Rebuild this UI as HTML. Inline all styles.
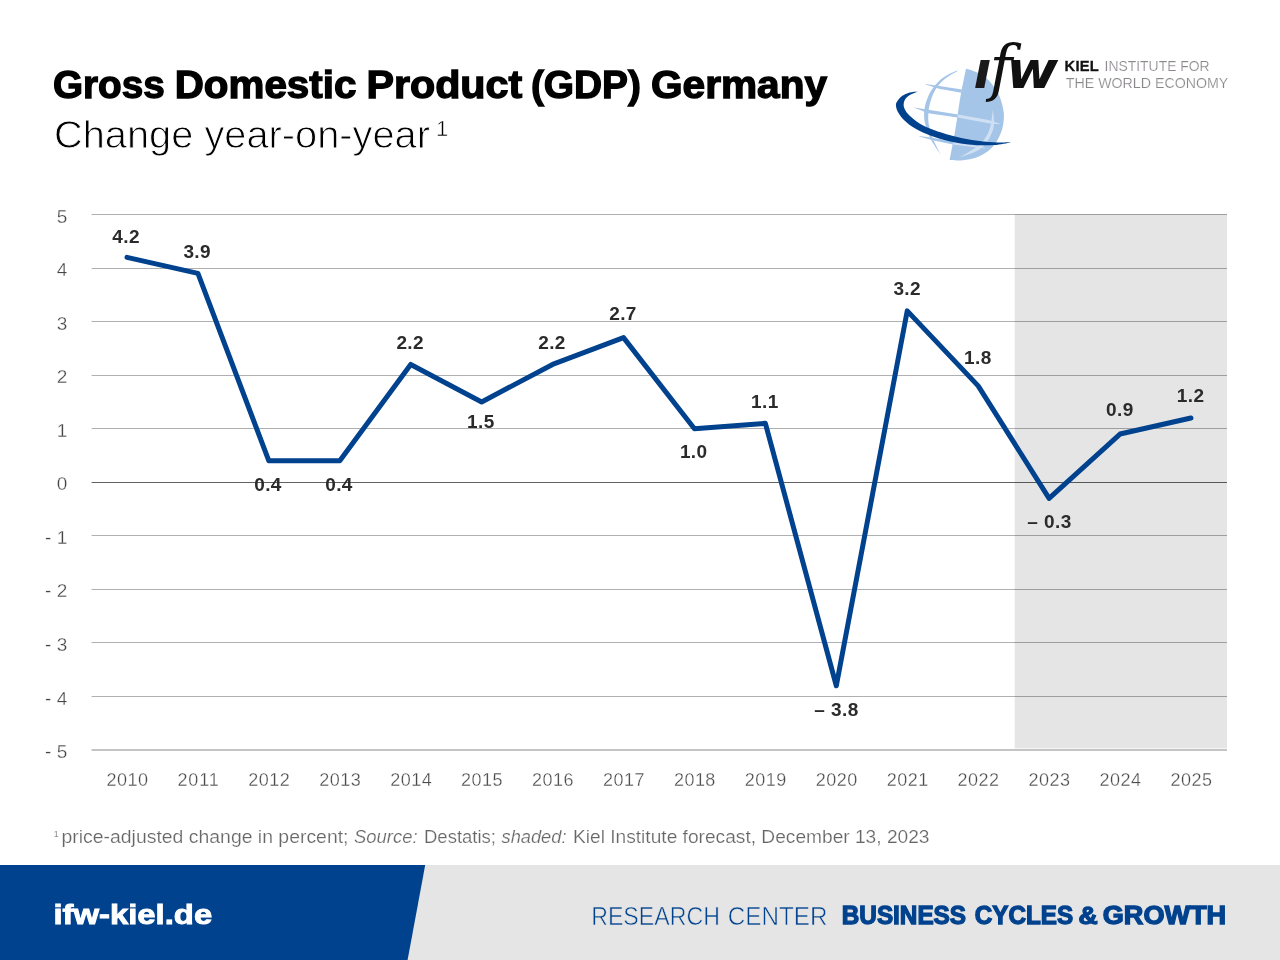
<!DOCTYPE html>
<html lang="en">
<head>
<meta charset="utf-8">
<title>Gross Domestic Product (GDP) Germany</title>
<style>
html,body{margin:0;padding:0;background:#fff;}
body{width:1280px;height:960px;overflow:hidden;font-family:"Liberation Sans", sans-serif;}
svg{display:block;position:absolute;left:0;top:0;}
text{white-space:pre;}
</style>
</head>
<body>
<svg width="1280" height="960" viewBox="0 0 1280 960">
<rect width="1280" height="960" fill="#fff"/>
<g id="title">
<text x="52.90" y="97.60" font-family='"Liberation Sans", sans-serif' font-size="38.6" font-weight="bold" font-style="normal" fill="#000" text-anchor="start" textLength="111.85" lengthAdjust="spacingAndGlyphs" stroke="#000" stroke-width="1.3">Gross</text>
<text x="174.65" y="97.60" font-family='"Liberation Sans", sans-serif' font-size="38.6" font-weight="bold" font-style="normal" fill="#000" text-anchor="start" textLength="181.85" lengthAdjust="spacingAndGlyphs" stroke="#000" stroke-width="1.3">Domestic</text>
<text x="366.40" y="97.60" font-family='"Liberation Sans", sans-serif' font-size="38.6" font-weight="bold" font-style="normal" fill="#000" text-anchor="start" textLength="155.85" lengthAdjust="spacingAndGlyphs" stroke="#000" stroke-width="1.3">Product</text>
<text x="530.90" y="97.60" font-family='"Liberation Sans", sans-serif' font-size="38.6" font-weight="bold" font-style="normal" fill="#000" text-anchor="start" textLength="110.10" lengthAdjust="spacingAndGlyphs" stroke="#000" stroke-width="1.3">(GDP)</text>
<text x="650.90" y="97.60" font-family='"Liberation Sans", sans-serif' font-size="38.6" font-weight="bold" font-style="normal" fill="#000" text-anchor="start" textLength="176.30" lengthAdjust="spacingAndGlyphs" stroke="#000" stroke-width="1.3">Germany</text>
<text x="54.00" y="147.50" font-family='"Liberation Sans", sans-serif' font-size="38" font-weight="normal" font-style="normal" fill="#000" text-anchor="start" textLength="376.00" lengthAdjust="spacingAndGlyphs" stroke="#fff" stroke-width="0.9">Change year-on-year</text>
<text x="436.00" y="135.50" font-family='"Liberation Sans", sans-serif' font-size="22" font-weight="normal" font-style="normal" fill="#000" text-anchor="start" stroke="#fff" stroke-width="0.5">1</text>
</g>
<g id="logo">
<path d="M966.0,68.8C967.2,69.1 970.3,69.8 973.1,70.9C975.9,72.0 979.7,72.9 983.0,75.3C986.3,77.7 990.1,81.7 992.8,85.2C995.5,88.7 997.7,92.1 999.4,96.1C1001.1,100.1 1002.5,105.4 1003.2,109.2C1003.9,113.0 1004.1,115.4 1003.8,119.1C1003.5,122.8 1003.1,126.9 1001.6,131.1C1000.1,135.3 997.7,140.5 995.0,144.2C992.3,147.8 988.9,150.6 985.2,153.0C981.6,155.4 977.3,157.2 973.1,158.4C968.9,159.6 963.9,160.1 960.0,160.4C956.1,160.7 951.3,160.2 949.6,160.1C950.4,155.8 953.2,141.6 954.5,134.4C955.8,127.2 956.2,123.8 957.3,116.9C958.4,110.0 959.6,100.8 961.1,92.8C962.6,84.8 965.2,72.8 966.0,68.8Z" fill="#a4c4e8"/>
<path d="M957.3,70.6C955.6,71.4 950.1,73.4 946.9,75.3C943.7,77.2 940.8,79.2 938.1,81.9C935.4,84.6 932.6,88.1 930.5,91.7C928.4,95.3 926.7,99.9 925.6,103.8C924.5,107.6 924.1,111.1 924.1,114.7C924.1,118.3 924.5,121.6 925.6,125.6C926.7,129.6 928.0,133.9 930.5,138.8C933.0,143.7 939.2,152.3 940.9,155.0C939.6,152.3 934.9,143.7 932.9,138.8C930.9,133.9 929.8,129.6 929.0,125.6C928.2,121.6 928.1,118.3 928.3,114.7C928.4,111.1 928.9,107.6 929.9,103.8C930.9,99.9 932.4,95.3 934.3,91.7C936.2,88.1 938.9,84.5 941.4,81.9C943.9,79.3 946.5,77.7 949.1,75.9C951.8,74.1 955.9,72.1 957.3,71.3Z" fill="#a4c4e8"/>
<path d="M925.5,84.1 L939.2,85.9 L961.9,89.4 L961.4,92.8 L939.2,88.8 L925.5,84.5Z" fill="#a4c4e8"/>
<path d="M914.3,107.4 L928.3,109.7 L958.0,114.4 L957.5,117.6 L928.3,113.2 L914.3,107.8Z" fill="#a4c4e8"/>
<path d="M919.3,136.0 L933.8,138.1 L953.6,141.4 L953.0,144.4 L933.8,140.5 L919.3,136.4Z" fill="#a4c4e8"/>
<path d="M958.0,114.4 L988.4,120.1 L999.9,123.8 L999.9,124.3 L988.4,123.3 L957.5,117.6Z" fill="#cfe0f3"/>
<path d="M953.6,141.4 L985.2,147.8 L985.2,148.4 L953.0,144.4Z" fill="#cfe0f3"/>
<path d="M992.9,110.0C993.1,112.6 994.5,120.8 993.9,125.6C993.2,130.4 991.5,134.8 989.0,138.8C986.5,142.8 983.9,146.6 978.9,149.8C973.9,153.0 962.2,156.6 958.9,158.0L958.9,157.8C961.8,156.0 971.5,150.6 976.0,147.2C980.5,143.8 983.2,141.2 985.6,137.6C988.0,134.0 989.4,130.2 990.6,125.6C991.8,121.0 992.4,112.6 992.7,110.0Z" fill="#cfe0f3"/>
<path d="M917.3,91.4C916.0,91.6 912.2,91.8 909.7,92.6C907.2,93.4 904.1,94.6 902.0,96.1C899.9,97.6 898.1,100.0 897.1,101.6C896.1,103.2 895.8,104.1 896.0,105.9C896.2,107.7 896.8,110.1 898.2,112.5C899.6,114.9 901.4,117.5 904.2,120.2C907.0,122.9 910.6,125.8 915.2,128.4C919.8,131.0 925.8,133.8 931.6,136.0C937.4,138.2 943.5,140.0 950.2,141.5C956.9,143.0 964.7,144.2 972.0,144.8C979.3,145.4 987.5,145.5 993.9,145.1C1000.3,144.7 1007.7,142.9 1010.5,142.5L1010.5,142.3C1007.7,142.3 1000.3,142.7 993.9,142.3C987.5,141.9 979.1,141.0 972.0,139.9C964.9,138.8 957.6,137.2 951.2,135.5C944.9,133.8 939.0,132.0 933.8,130.0C928.5,128.0 923.5,125.8 919.5,123.4C915.5,121.0 912.2,118.2 909.7,115.8C907.2,113.4 905.8,111.2 904.8,109.2C903.8,107.2 903.5,105.6 903.7,103.8C903.9,101.9 904.7,99.8 905.9,98.3C907.1,96.8 908.9,95.6 910.8,94.5C912.7,93.4 916.2,92.2 917.3,91.7Z" fill="#00428e"/>
<text x="973.4" y="87.7" font-family='"DejaVu Sans", "Liberation Sans", sans-serif' font-size="52" font-weight="bold" font-style="italic" fill="#1a1a1a">ı</text>
<text x="989.6" y="88.6" font-family='"DejaVu Serif", "Liberation Serif", serif' font-size="61.5" font-style="italic" fill="#111">f</text>
<text transform="translate(1006.2 87.7) scale(1.08 1)" font-family='"DejaVu Sans", "Liberation Sans", sans-serif' font-size="52" font-weight="bold" font-style="italic" fill="#111">w</text>
<text x="1064.6" y="71.1" font-family='"Liberation Sans", sans-serif' font-size="14.7" font-weight="bold" fill="#111" stroke="#111" stroke-width="0.3" textLength="34.2" lengthAdjust="spacing">KIEL</text>
<text x="1104.6" y="71.1" font-family='"Liberation Sans", sans-serif' font-size="14.7" fill="#8a878a" stroke="#fff" stroke-width="0.2" textLength="105" lengthAdjust="spacingAndGlyphs">INSTITUTE FOR</text>
<text x="1065.8" y="87.7" font-family='"Liberation Sans", sans-serif' font-size="14.7" fill="#8a878a" stroke="#fff" stroke-width="0.2" textLength="162.5" lengthAdjust="spacingAndGlyphs">THE WORLD ECONOMY</text>
</g>
<g id="chart">
<rect x="1014.7" y="214.0" width="212.3" height="534.4" fill="#e5e5e5"/>
<line x1="91.6" x2="1227.0" y1="214.50" y2="214.50" stroke="#000" stroke-opacity="0.31" stroke-width="1.0"/>
<text x="67.30" y="222.60" font-family='"Liberation Sans", sans-serif' font-size="19" font-weight="normal" font-style="normal" fill="#464646" text-anchor="end" stroke="#fff" stroke-width="0.3">5</text>
<line x1="91.6" x2="1227.0" y1="268.50" y2="268.50" stroke="#000" stroke-opacity="0.31" stroke-width="1.0"/>
<text x="67.30" y="276.15" font-family='"Liberation Sans", sans-serif' font-size="19" font-weight="normal" font-style="normal" fill="#464646" text-anchor="end" stroke="#fff" stroke-width="0.3">4</text>
<line x1="91.6" x2="1227.0" y1="321.50" y2="321.50" stroke="#000" stroke-opacity="0.31" stroke-width="1.0"/>
<text x="67.30" y="329.70" font-family='"Liberation Sans", sans-serif' font-size="19" font-weight="normal" font-style="normal" fill="#464646" text-anchor="end" stroke="#fff" stroke-width="0.3">3</text>
<line x1="91.6" x2="1227.0" y1="375.50" y2="375.50" stroke="#000" stroke-opacity="0.31" stroke-width="1.0"/>
<text x="67.30" y="383.25" font-family='"Liberation Sans", sans-serif' font-size="19" font-weight="normal" font-style="normal" fill="#464646" text-anchor="end" stroke="#fff" stroke-width="0.3">2</text>
<line x1="91.6" x2="1227.0" y1="428.50" y2="428.50" stroke="#000" stroke-opacity="0.31" stroke-width="1.0"/>
<text x="67.30" y="436.80" font-family='"Liberation Sans", sans-serif' font-size="19" font-weight="normal" font-style="normal" fill="#464646" text-anchor="end" stroke="#fff" stroke-width="0.3">1</text>
<line x1="91.6" x2="1227.0" y1="482.50" y2="482.50" stroke="#000" stroke-opacity="0.62" stroke-width="1.0"/>
<text x="67.30" y="490.35" font-family='"Liberation Sans", sans-serif' font-size="19" font-weight="normal" font-style="normal" fill="#464646" text-anchor="end" stroke="#fff" stroke-width="0.3">0</text>
<line x1="91.6" x2="1227.0" y1="535.50" y2="535.50" stroke="#000" stroke-opacity="0.31" stroke-width="1.0"/>
<text x="67.30" y="543.90" font-family='"Liberation Sans", sans-serif' font-size="19" font-weight="normal" font-style="normal" fill="#464646" text-anchor="end" stroke="#fff" stroke-width="0.3">- 1</text>
<line x1="91.6" x2="1227.0" y1="589.50" y2="589.50" stroke="#000" stroke-opacity="0.31" stroke-width="1.0"/>
<text x="67.30" y="597.45" font-family='"Liberation Sans", sans-serif' font-size="19" font-weight="normal" font-style="normal" fill="#464646" text-anchor="end" stroke="#fff" stroke-width="0.3">- 2</text>
<line x1="91.6" x2="1227.0" y1="642.50" y2="642.50" stroke="#000" stroke-opacity="0.31" stroke-width="1.0"/>
<text x="67.30" y="651.00" font-family='"Liberation Sans", sans-serif' font-size="19" font-weight="normal" font-style="normal" fill="#464646" text-anchor="end" stroke="#fff" stroke-width="0.3">- 3</text>
<line x1="91.6" x2="1227.0" y1="696.50" y2="696.50" stroke="#000" stroke-opacity="0.31" stroke-width="1.0"/>
<text x="67.30" y="704.55" font-family='"Liberation Sans", sans-serif' font-size="19" font-weight="normal" font-style="normal" fill="#464646" text-anchor="end" stroke="#fff" stroke-width="0.3">- 4</text>
<line x1="91.6" x2="1227.0" y1="750.00" y2="750.00" stroke="#000" stroke-opacity="0.31" stroke-width="1.5"/>
<text x="67.30" y="758.10" font-family='"Liberation Sans", sans-serif' font-size="19" font-weight="normal" font-style="normal" fill="#464646" text-anchor="end" stroke="#fff" stroke-width="0.3">- 5</text>
<polyline points="127.00,257.34 197.93,273.41 268.86,460.83 339.79,460.83 410.72,364.44 481.65,401.93 552.58,364.44 623.51,337.66 694.44,428.70 765.37,423.35 836.30,685.74 907.23,310.89 978.16,385.86 1049.09,498.31 1120.02,434.06 1190.95,417.99" fill="none" stroke="#00428e" stroke-width="5" stroke-linejoin="round" stroke-linecap="round"/>
<text x="127.20" y="786.30" font-family='"Liberation Sans", sans-serif' font-size="18" font-weight="normal" font-style="normal" fill="#4a4a4a" text-anchor="middle" textLength="41.50" lengthAdjust="spacing" stroke="#fff" stroke-width="0.3">2010</text>
<text x="198.13" y="786.30" font-family='"Liberation Sans", sans-serif' font-size="18" font-weight="normal" font-style="normal" fill="#4a4a4a" text-anchor="middle" textLength="41.50" lengthAdjust="spacing" stroke="#fff" stroke-width="0.3">2011</text>
<text x="269.06" y="786.30" font-family='"Liberation Sans", sans-serif' font-size="18" font-weight="normal" font-style="normal" fill="#4a4a4a" text-anchor="middle" textLength="41.50" lengthAdjust="spacing" stroke="#fff" stroke-width="0.3">2012</text>
<text x="339.99" y="786.30" font-family='"Liberation Sans", sans-serif' font-size="18" font-weight="normal" font-style="normal" fill="#4a4a4a" text-anchor="middle" textLength="41.50" lengthAdjust="spacing" stroke="#fff" stroke-width="0.3">2013</text>
<text x="410.92" y="786.30" font-family='"Liberation Sans", sans-serif' font-size="18" font-weight="normal" font-style="normal" fill="#4a4a4a" text-anchor="middle" textLength="41.50" lengthAdjust="spacing" stroke="#fff" stroke-width="0.3">2014</text>
<text x="481.85" y="786.30" font-family='"Liberation Sans", sans-serif' font-size="18" font-weight="normal" font-style="normal" fill="#4a4a4a" text-anchor="middle" textLength="41.50" lengthAdjust="spacing" stroke="#fff" stroke-width="0.3">2015</text>
<text x="552.78" y="786.30" font-family='"Liberation Sans", sans-serif' font-size="18" font-weight="normal" font-style="normal" fill="#4a4a4a" text-anchor="middle" textLength="41.50" lengthAdjust="spacing" stroke="#fff" stroke-width="0.3">2016</text>
<text x="623.71" y="786.30" font-family='"Liberation Sans", sans-serif' font-size="18" font-weight="normal" font-style="normal" fill="#4a4a4a" text-anchor="middle" textLength="41.50" lengthAdjust="spacing" stroke="#fff" stroke-width="0.3">2017</text>
<text x="694.64" y="786.30" font-family='"Liberation Sans", sans-serif' font-size="18" font-weight="normal" font-style="normal" fill="#4a4a4a" text-anchor="middle" textLength="41.50" lengthAdjust="spacing" stroke="#fff" stroke-width="0.3">2018</text>
<text x="765.57" y="786.30" font-family='"Liberation Sans", sans-serif' font-size="18" font-weight="normal" font-style="normal" fill="#4a4a4a" text-anchor="middle" textLength="41.50" lengthAdjust="spacing" stroke="#fff" stroke-width="0.3">2019</text>
<text x="836.50" y="786.30" font-family='"Liberation Sans", sans-serif' font-size="18" font-weight="normal" font-style="normal" fill="#4a4a4a" text-anchor="middle" textLength="41.50" lengthAdjust="spacing" stroke="#fff" stroke-width="0.3">2020</text>
<text x="907.43" y="786.30" font-family='"Liberation Sans", sans-serif' font-size="18" font-weight="normal" font-style="normal" fill="#4a4a4a" text-anchor="middle" textLength="41.50" lengthAdjust="spacing" stroke="#fff" stroke-width="0.3">2021</text>
<text x="978.36" y="786.30" font-family='"Liberation Sans", sans-serif' font-size="18" font-weight="normal" font-style="normal" fill="#4a4a4a" text-anchor="middle" textLength="41.50" lengthAdjust="spacing" stroke="#fff" stroke-width="0.3">2022</text>
<text x="1049.29" y="786.30" font-family='"Liberation Sans", sans-serif' font-size="18" font-weight="normal" font-style="normal" fill="#4a4a4a" text-anchor="middle" textLength="41.50" lengthAdjust="spacing" stroke="#fff" stroke-width="0.3">2023</text>
<text x="1120.22" y="786.30" font-family='"Liberation Sans", sans-serif' font-size="18" font-weight="normal" font-style="normal" fill="#4a4a4a" text-anchor="middle" textLength="41.50" lengthAdjust="spacing" stroke="#fff" stroke-width="0.3">2024</text>
<text x="1191.15" y="786.30" font-family='"Liberation Sans", sans-serif' font-size="18" font-weight="normal" font-style="normal" fill="#4a4a4a" text-anchor="middle" textLength="41.50" lengthAdjust="spacing" stroke="#fff" stroke-width="0.3">2025</text>
<text x="126.10" y="242.90" font-family='"Liberation Sans", sans-serif' font-size="19" font-weight="bold" font-style="normal" fill="#2b2b2b" text-anchor="middle" letter-spacing="0.4">4.2</text>
<text x="197.20" y="257.75" font-family='"Liberation Sans", sans-serif' font-size="19" font-weight="bold" font-style="normal" fill="#2b2b2b" text-anchor="middle" letter-spacing="0.4">3.9</text>
<text x="268.00" y="491.25" font-family='"Liberation Sans", sans-serif' font-size="19" font-weight="bold" font-style="normal" fill="#2b2b2b" text-anchor="middle" letter-spacing="0.4">0.4</text>
<text x="339.00" y="491.25" font-family='"Liberation Sans", sans-serif' font-size="19" font-weight="bold" font-style="normal" fill="#2b2b2b" text-anchor="middle" letter-spacing="0.4">0.4</text>
<text x="410.20" y="349.00" font-family='"Liberation Sans", sans-serif' font-size="19" font-weight="bold" font-style="normal" fill="#2b2b2b" text-anchor="middle" letter-spacing="0.4">2.2</text>
<text x="480.90" y="428.10" font-family='"Liberation Sans", sans-serif' font-size="19" font-weight="bold" font-style="normal" fill="#2b2b2b" text-anchor="middle" letter-spacing="0.4">1.5</text>
<text x="552.00" y="349.00" font-family='"Liberation Sans", sans-serif' font-size="19" font-weight="bold" font-style="normal" fill="#2b2b2b" text-anchor="middle" letter-spacing="0.4">2.2</text>
<text x="623.00" y="320.00" font-family='"Liberation Sans", sans-serif' font-size="19" font-weight="bold" font-style="normal" fill="#2b2b2b" text-anchor="middle" letter-spacing="0.4">2.7</text>
<text x="693.70" y="457.90" font-family='"Liberation Sans", sans-serif' font-size="19" font-weight="bold" font-style="normal" fill="#2b2b2b" text-anchor="middle" letter-spacing="0.4">1.0</text>
<text x="764.90" y="408.40" font-family='"Liberation Sans", sans-serif' font-size="19" font-weight="bold" font-style="normal" fill="#2b2b2b" text-anchor="middle" letter-spacing="0.4">1.1</text>
<text x="836.50" y="716.25" font-family='"Liberation Sans", sans-serif' font-size="19" font-weight="bold" font-style="normal" fill="#2b2b2b" text-anchor="middle" letter-spacing="0.4">– 3.8</text>
<text x="907.20" y="295.30" font-family='"Liberation Sans", sans-serif' font-size="19" font-weight="bold" font-style="normal" fill="#2b2b2b" text-anchor="middle" letter-spacing="0.4">3.2</text>
<text x="977.80" y="364.20" font-family='"Liberation Sans", sans-serif' font-size="19" font-weight="bold" font-style="normal" fill="#2b2b2b" text-anchor="middle" letter-spacing="0.4">1.8</text>
<text x="1049.50" y="528.40" font-family='"Liberation Sans", sans-serif' font-size="19" font-weight="bold" font-style="normal" fill="#2b2b2b" text-anchor="middle" letter-spacing="0.4">– 0.3</text>
<text x="1119.80" y="415.60" font-family='"Liberation Sans", sans-serif' font-size="19" font-weight="bold" font-style="normal" fill="#2b2b2b" text-anchor="middle" letter-spacing="0.4">0.9</text>
<text x="1190.60" y="401.90" font-family='"Liberation Sans", sans-serif' font-size="19" font-weight="bold" font-style="normal" fill="#2b2b2b" text-anchor="middle" letter-spacing="0.4">1.2</text>
</g>
<g id="footnote">
<text x="53.60" y="837.20" font-family='"Liberation Sans", sans-serif' font-size="9.5" font-weight="normal" font-style="normal" fill="#666666" text-anchor="start" stroke="#fff" stroke-width="0.2">1</text>
<text x="61.50" y="842.90" font-family='"Liberation Sans", sans-serif' font-size="17.5" font-weight="normal" font-style="normal" fill="#666666" text-anchor="start" textLength="287.00" lengthAdjust="spacingAndGlyphs" stroke="#fff" stroke-width="0.2">price-adjusted change in percent;</text>
<text x="354.00" y="842.90" font-family='"Liberation Sans", sans-serif' font-size="17.5" font-weight="normal" font-style="italic" fill="#666666" text-anchor="start" textLength="63.50" lengthAdjust="spacingAndGlyphs" stroke="#fff" stroke-width="0.2">Source:</text>
<text x="424.00" y="842.90" font-family='"Liberation Sans", sans-serif' font-size="17.5" font-weight="normal" font-style="normal" fill="#666666" text-anchor="start" textLength="72.00" lengthAdjust="spacingAndGlyphs" stroke="#fff" stroke-width="0.2">Destatis;</text>
<text x="501.50" y="842.90" font-family='"Liberation Sans", sans-serif' font-size="17.5" font-weight="normal" font-style="italic" fill="#666666" text-anchor="start" textLength="65.00" lengthAdjust="spacingAndGlyphs" stroke="#fff" stroke-width="0.2">shaded:</text>
<text x="573.00" y="842.90" font-family='"Liberation Sans", sans-serif' font-size="17.5" font-weight="normal" font-style="normal" fill="#666666" text-anchor="start" textLength="356.50" lengthAdjust="spacingAndGlyphs" stroke="#fff" stroke-width="0.2">Kiel Institute forecast, December 13, 2023</text>
</g>
<g id="footer">
<rect x="0" y="865" width="1280" height="95" fill="#e5e5e5"/>
<polygon points="0,865 425.2,865 407.6,960 0,960" fill="#00428e"/>
<text x="53.40" y="924.00" font-family='"Liberation Sans", sans-serif' font-size="27.8" font-weight="bold" font-style="normal" fill="#fff" text-anchor="start" textLength="158.80" lengthAdjust="spacingAndGlyphs" stroke="#fff" stroke-width="0.9">ifw-kiel.de</text>
<text x="591.20" y="924.50" font-family='"Liberation Sans", sans-serif' font-size="26" font-weight="normal" font-style="normal" fill="#00428e" text-anchor="start" textLength="128.75" lengthAdjust="spacingAndGlyphs" stroke="#e5e5e5" stroke-width="0.6">RESEARCH</text>
<text x="727.70" y="924.50" font-family='"Liberation Sans", sans-serif' font-size="26" font-weight="normal" font-style="normal" fill="#00428e" text-anchor="start" textLength="99.75" lengthAdjust="spacingAndGlyphs" stroke="#e5e5e5" stroke-width="0.6">CENTER</text>
<text x="841.80" y="924.00" font-family='"Liberation Sans", sans-serif' font-size="25.2" font-weight="bold" font-style="normal" fill="#00428e" text-anchor="start" textLength="124.20" lengthAdjust="spacingAndGlyphs" stroke="#00428e" stroke-width="1.3">BUSINESS</text>
<text x="974.80" y="924.00" font-family='"Liberation Sans", sans-serif' font-size="25.2" font-weight="bold" font-style="normal" fill="#00428e" text-anchor="start" textLength="98.40" lengthAdjust="spacingAndGlyphs" stroke="#00428e" stroke-width="1.3">CYCLES</text>
<text x="1078.40" y="924.00" font-family='"Liberation Sans", sans-serif' font-size="23.5" font-weight="bold" font-style="normal" fill="#00428e" text-anchor="start" textLength="19.20" lengthAdjust="spacingAndGlyphs" stroke="#00428e" stroke-width="1.3">&amp;</text>
<text x="1102.80" y="924.00" font-family='"Liberation Sans", sans-serif' font-size="25.2" font-weight="bold" font-style="normal" fill="#00428e" text-anchor="start" textLength="123.40" lengthAdjust="spacingAndGlyphs" stroke="#00428e" stroke-width="1.3">GROWTH</text>
</g>
</svg>
</body>
</html>
